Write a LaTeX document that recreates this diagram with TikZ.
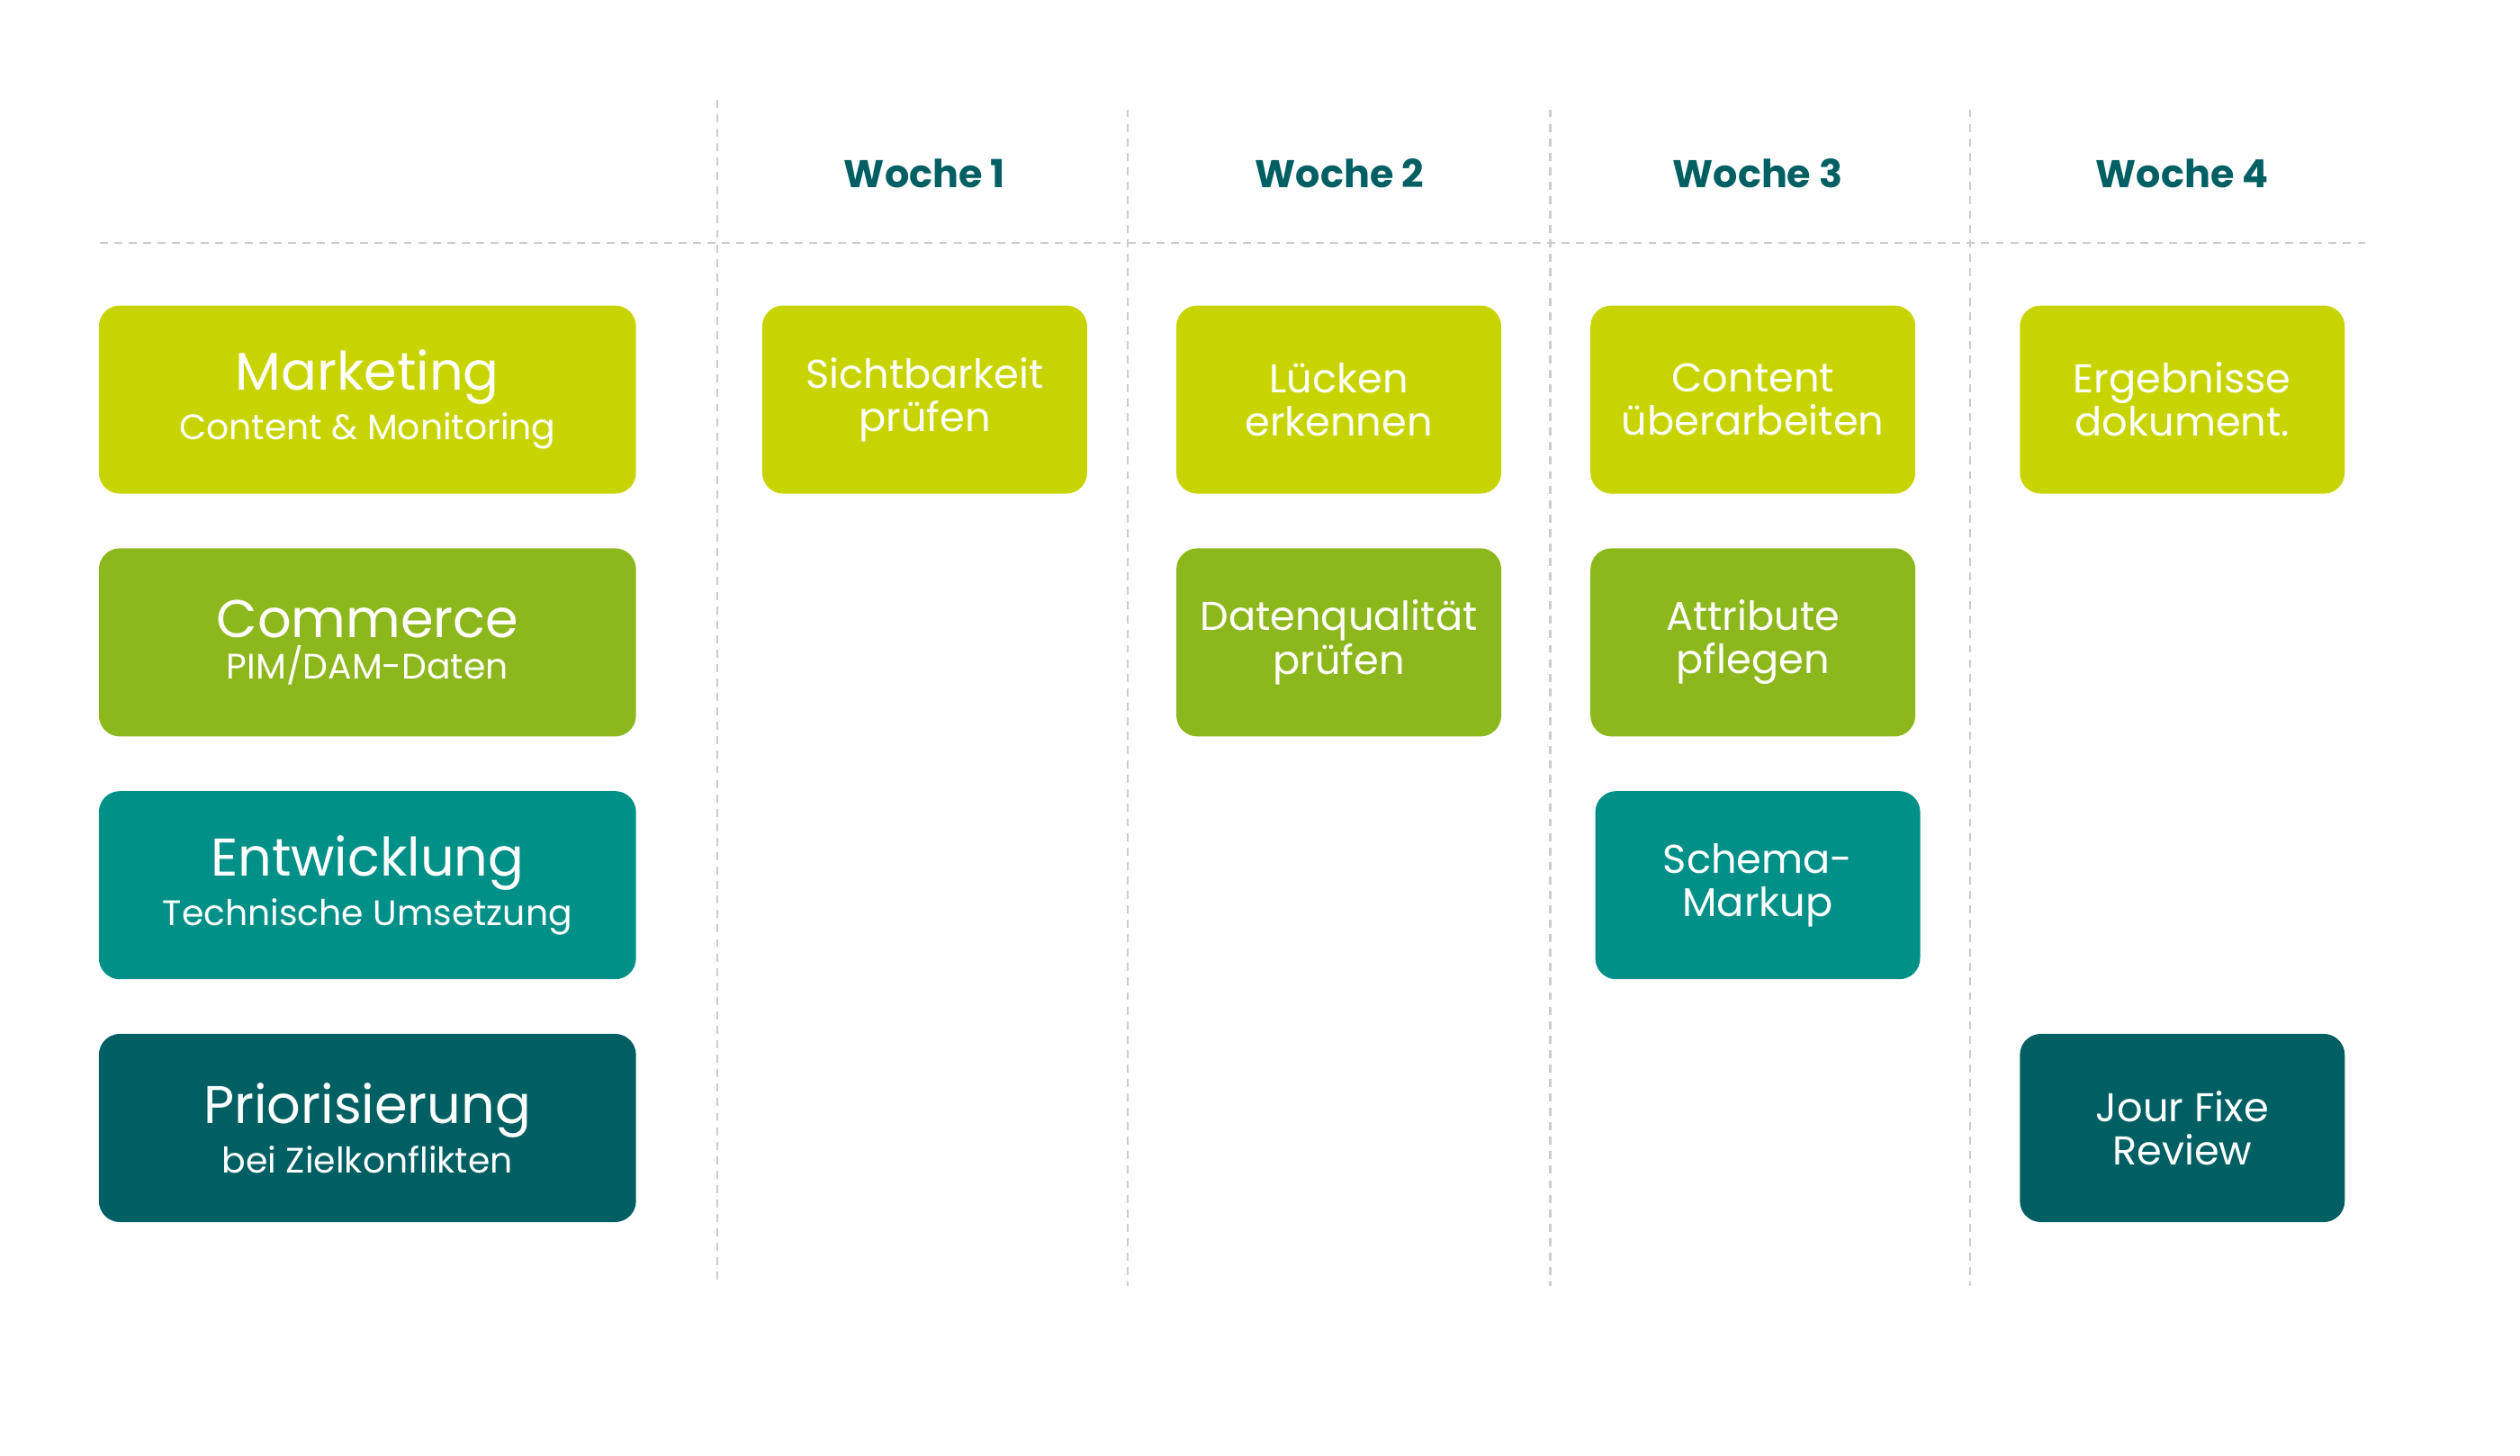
\documentclass[tikz,border=0pt]{standalone}
\usepackage{fontspec}
\setmainfont{Poppins}
\definecolor{lime}{HTML}{C8D400}
\definecolor{grn}{HTML}{8CB81E}
\definecolor{teal2}{HTML}{009087}
\definecolor{dteal}{HTML}{005F63}
\definecolor{grid}{HTML}{CCCCCC}
\tikzset{
  card/.style={rounded corners=13pt, text=white, align=center, inner sep=0pt},
  lane/.style={card, minimum width=334pt, minimum height=117pt},
  task/.style={card, minimum width=202pt, minimum height=117pt, font=\fontsize{25}{27}\selectfont},
  hdr/.style={text=dteal, font=\fontsize{24}{28}\selectfont\bfseries},
  gridline/.style={grid, dashed, line width=1.2pt, dash pattern=on 5pt off 4pt},
}
\newcommand{\lanetext}[2]{{\fontsize{33}{40}\selectfont #1}\\[4pt]{\fontsize{22}{26}\selectfont #2}}
\begin{document}
\begin{tikzpicture}[x=1pt,y=-1pt]
\useasboundingbox (0,0) rectangle (1567,905);
\coordinate (h1) at (62,151); \coordinate (h2) at (1475,151);
\draw[gridline] (h1) -- (h2);
\foreach \x/\t in {446/62,701/68,964/68,1225/68}{
  \coordinate (va) at (\x,\t); \coordinate (vb) at (\x,800);
  \draw[gridline] (va) -- (vb);
}
\node[hdr] (w1) at (575,108) {Woche 1};
\node[hdr] (w2) at (833,108) {Woche 2};
\node[hdr] (w3) at (1093,108) {Woche 3};
\node[hdr] (w4) at (1357,108) {Woche 4};

\node[lane, fill=lime] (l1) at (228.5,248.5) {\lanetext{Marketing}{Content \& Monitoring}};
\node[lane, fill=grn] (l2) at (228.5,399.5) {\lanetext{Commerce}{PIM/DAM-Daten}};
\node[lane, fill=teal2] (l3) at (228.5,550.5) {\lanetext{Entwicklung}{Technische Umsetzung}};
\node[lane, fill=dteal] (l4) at (228.5,701.5) {\lanetext{Priorisierung}{bei Zielkonflikten}};

\node[task, fill=lime] (t1) at (575,248.5) {Sichtbarkeit\\prüfen};
\node[task, fill=lime] (t2) at (832.5,248.5) {Lücken\\erkennen};
\node[task, fill=lime] (t3) at (1090,248.5) {Content\\überarbeiten};
\node[task, fill=lime] (t4) at (1357,248.5) {Ergebnisse\\dokument.};
\node[task, fill=grn] (t5) at (832.5,399.5) {Datenqualität\\prüfen};
\node[task, fill=grn] (t6) at (1090,399.5) {Attribute\\pflegen};
\node[task, fill=teal2] (t7) at (1093,550.5) {Schema-\\Markup};
\node[task, fill=dteal] (t8) at (1357,701.5) {Jour Fixe\\Review};
\end{tikzpicture}
\end{document}
